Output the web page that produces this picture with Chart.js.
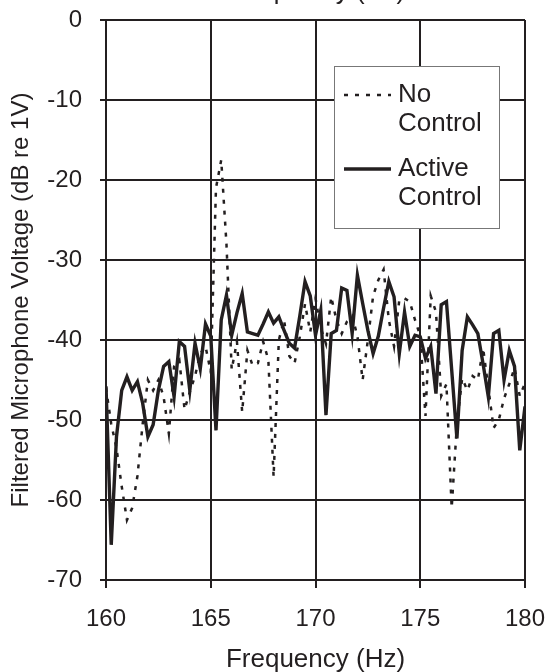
<!DOCTYPE html>
<html>
<head>
<meta charset="utf-8">
<script src="https://cdn.jsdelivr.net/npm/chart.js@4/dist/chart.umd.min.js"></script>
<style>
  html, body { margin: 0; padding: 0; background: #fff; overflow: hidden; }
  #wrap { width: 549px; height: 672px; overflow: hidden; }
  #chart { display: block; margin-top: -24px; }
</style>
</head>
<body>
<div id="wrap"><canvas id="chart" width="549" height="696"></canvas></div>
<script>
// frequency bins (Hz)
const freqHz = [
  160, 160.25, 160.5, 160.75, 161, 161.25, 161.5, 161.75, 162, 162.25,
  162.5, 162.75, 163, 163.25, 163.5, 163.75, 164, 164.25, 164.5, 164.75,
  165, 165.25, 165.5, 165.75, 166, 166.25, 166.5, 166.75, 167, 167.25,
  167.5, 167.75, 168, 168.25, 168.5, 168.75, 169, 169.25, 169.5, 169.75,
  170, 170.25, 170.5, 170.75, 171, 171.25, 171.5, 171.75, 172, 172.25,
  172.5, 172.75, 173, 173.25, 173.5, 173.75, 174, 174.25, 174.5, 174.75,
  175, 175.25, 175.5, 175.75, 176, 176.25, 176.5, 176.75, 177, 177.25,
  177.5, 177.75, 178, 178.25, 178.5, 178.75, 179, 179.25, 179.5, 179.75,
  180
];

// filtered mic voltage, dB re 1V
const noControl = [
  -46.0, -50.5, -53.5, -58.3, -62.5, -61.0, -57.0, -50.5, -45.0, -46.3,
  -45.0, -47.1, -51.7, -43.3, -42.5, -48.7, -46.5, -44.5, -41.7, -40.8,
  -44.0, -21.0, -17.5, -28.0, -43.7, -40.2, -49.0, -41.3, -43.2, -42.9,
  -40.2, -42.5, -57.1, -40.0, -37.5, -42.0, -42.9, -39.6, -35.5, -39.0,
  -34.8, -38.5, -40.5, -34.6, -37.5, -39.2, -37.7, -37.0, -39.5, -45.0,
  -40.0, -34.5, -32.5, -31.2, -37.5, -40.8, -35.0, -34.8, -35.2, -37.5,
  -39.5, -49.5, -34.5, -36.5, -47.0, -45.5, -61.0, -50.5, -44.8, -46.3,
  -44.5, -45.0, -41.0, -46.0, -51.0, -50.0, -47.3, -45.5, -43.5, -47.0,
  -45.4
];

const activeControl = [
  -45.8, -65.6, -52.1, -46.3, -44.6, -46.3, -45.2, -47.9, -52.1, -50.6,
  -46.3, -43.3, -42.7, -47.1, -40.2, -40.8, -46.3, -40.4, -43.6, -38.0,
  -39.5, -51.3, -37.5, -34.4, -39.4, -36.6, -34.2, -39.0, -39.2, -39.4,
  -38.0, -36.5, -37.9, -37.1, -38.8, -40.4, -41.0, -37.0, -32.7, -34.5,
  -39.4, -36.3, -49.4, -39.2, -38.8, -33.5, -33.8, -39.2, -31.9, -35.4,
  -38.8, -41.7, -39.5, -36.0, -32.7, -34.6, -41.7, -36.5, -40.8, -39.4,
  -39.6, -42.3, -40.8, -46.7, -35.6, -35.2, -43.7, -52.3, -41.3, -37.1,
  -38.1, -39.2, -43.0, -47.1, -39.2, -38.8, -45.0, -41.3, -43.3, -53.8,
  -48.3
];

const xTicks = [160, 165, 170, 175, 180];
const yTicks = [0, -10, -20, -30, -40, -50, -60, -70];

const ink = '#231f20';
const fontFamily = '"Liberation Sans", Arial, sans-serif';

const toPoints = (ys) => freqHz.map((f, i) => ({ x: f, y: ys[i] }));
const fixedTicks = (vals) => (scale) => { scale.ticks = vals.map(v => ({ value: v })); };

// boxed legend in the upper right of the plot, two-line labels
const boxLegend = {
  id: 'boxLegend',
  afterDatasetsDraw(chart) {
    const { ctx, chartArea } = chart;
    const bx = chartArea.left + 228, by = chartArea.top + 46;
    const bw = 165, bh = 162;
    ctx.save();
    ctx.fillStyle = '#fff';
    ctx.fillRect(bx, by, bw, bh);
    ctx.strokeStyle = '#777';
    ctx.lineWidth = 1;
    ctx.strokeRect(bx + 0.5, by + 0.5, bw, bh);

    ctx.font = '26px ' + fontFamily;
    ctx.fillStyle = ink;
    ctx.textBaseline = 'middle';
    const rows = [
      { ds: chart.data.datasets[0], y: by + 29 },
      { ds: chart.data.datasets[1], y: by + 103 }
    ];
    rows.forEach(r => {
      ctx.strokeStyle = r.ds.borderColor;
      ctx.lineWidth = r.ds.borderWidth;
      ctx.setLineDash(r.ds.borderDash || []);
      ctx.beginPath();
      ctx.moveTo(bx + 10, r.y);
      ctx.lineTo(bx + 57, r.y);
      ctx.stroke();
      ctx.setLineDash([]);
      r.ds.label.split(' ').forEach((word, k) => {
        ctx.fillText(word, bx + 64, r.y + k * 29);
      });
    });
    ctx.restore();
  }
};

new Chart(document.getElementById('chart'), {
  type: 'line',
  data: {
    datasets: [
      {
        label: 'No Control',
        data: toPoints(noControl),
        borderColor: ink,
        borderWidth: 2.5,
        borderDash: [4, 7],
        pointRadius: 0,
        tension: 0,
        order: 1
      },
      {
        label: 'Active Control',
        data: toPoints(activeControl),
        borderColor: ink,
        borderWidth: 3.4,
        pointRadius: 0,
        tension: 0,
        order: 0
      }
    ]
  },
  options: {
    responsive: false,
    animation: false,
    layout: { padding: { left: 0, right: 0, top: 0, bottom: 0 } },
    plugins: {
      legend: { display: false },
      tooltip: { enabled: false }
    },
    scales: {
      x: {
        type: 'linear',
        position: 'bottom',
        min: 160,
        max: 180,
        afterBuildTicks: fixedTicks(xTicks),
        afterFit: (scale) => {
          scale.height = 92;
          scale.paddingLeft = 0;
          scale.paddingRight = 24;
        },
        grid: { color: ink, lineWidth: 2, tickLength: 8 },
        border: { color: ink, width: 2 },
        ticks: { color: ink, padding: 17, maxRotation: 0, font: { family: fontFamily, size: 24 } },
        title: {
          display: true,
          text: 'Frequency (Hz)',
          color: ink,
          font: { family: fontFamily, size: 26 },
          padding: { top: 6, bottom: -3 }
        }
      },
      xTop: {
        type: 'linear',
        position: 'top',
        min: 160,
        max: 180,
        grid: { display: false, drawTicks: false },
        border: { display: false },
        ticks: { display: false },
        title: {
          display: true,
          text: 'Frequency (Hz)',
          color: ink,
          font: { family: fontFamily, size: 26 },
          padding: { top: 0, bottom: 12.8 }
        }
      },
      y: {
        min: -70,
        max: 0,
        afterBuildTicks: fixedTicks(yTicks),
        afterFit: (scale) => { scale.width = 106; },
        grid: { color: ink, lineWidth: 2, tickLength: 6 },
        border: { color: ink, width: 2 },
        ticks: { color: ink, padding: 18, font: { family: fontFamily, size: 24 } },
        title: {
          display: true,
          text: 'Filtered Microphone Voltage (dB re 1V)',
          color: ink,
          font: { family: fontFamily, size: 24 },
          padding: { top: 7, bottom: 12 }
        }
      }
    }
  },
  plugins: [boxLegend]
});
</script>
</body>
</html>
